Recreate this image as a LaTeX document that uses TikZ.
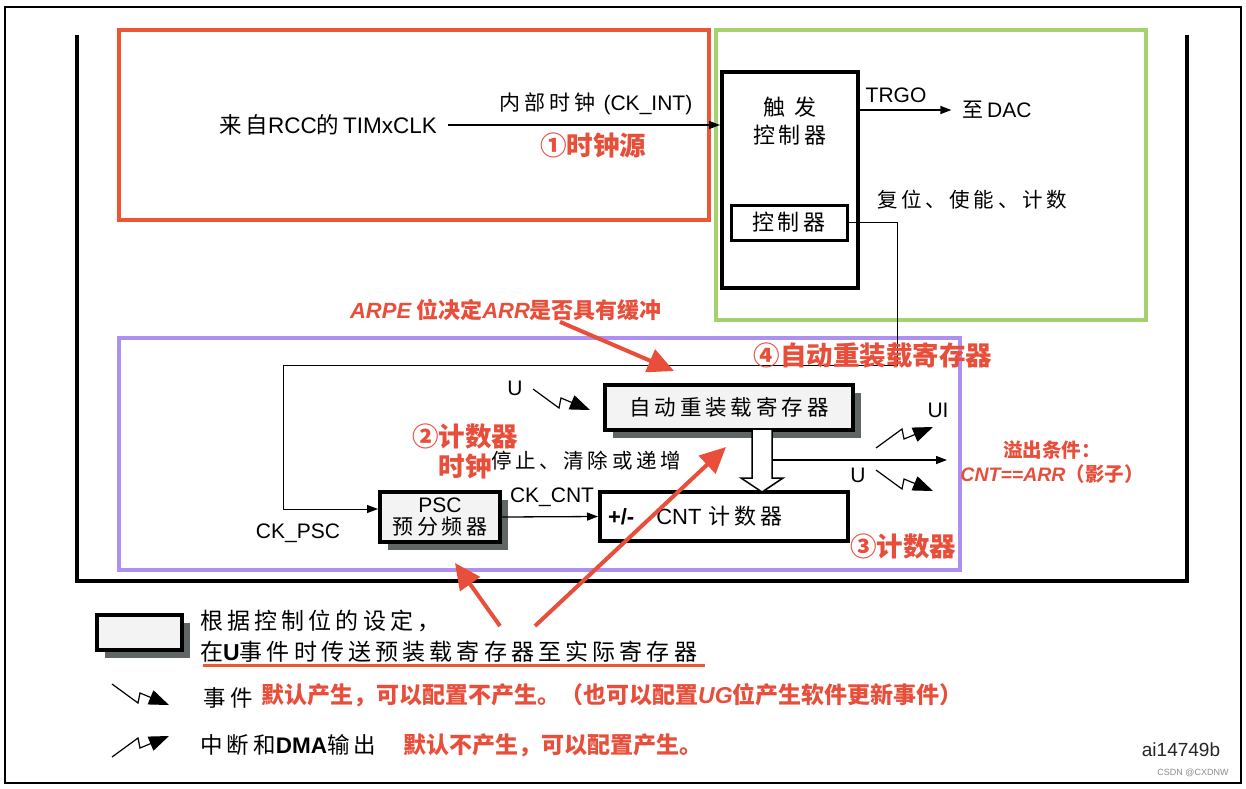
\documentclass[tikz,border=0pt]{standalone}
\usepackage{fontspec}
\setmainfont{Noto Sans CJK SC}
\newfontfamily\wide[LetterSpace=18]{Noto Sans CJK SC}
\newfontfamily\lat{Liberation Sans}
\usetikzlibrary{arrows.meta,positioning,calc,shadows}

\definecolor{srcred}{RGB}{237,86,52}
\definecolor{trggreen}{RGB}{166,210,110}
\definecolor{cntpurple}{RGB}{174,144,240}
\definecolor{notered}{RGB}{232,78,58}
\definecolor{shadowgray}{RGB}{96,102,102}
\definecolor{boxfill}{RGB}{243,243,243}

\begin{document}
\begin{tikzpicture}[x=1pt,y=-1pt,
  txt/.style={font=\wide\fontsize{21}{28}\selectfont,inner sep=1pt},
  lt/.style={font=\lat\fontsize{21}{25}\selectfont,inner sep=1pt},
  note/.style={text=notered,font=\fontsize{26.5}{30}\selectfont\bfseries,inner sep=1pt},
  subnote/.style={text=notered,font=\fontsize{23}{25}\selectfont\bfseries,inner sep=1pt},
  regbox/.style={draw,line width=4pt,fill=boxfill,inner sep=0pt,
    drop shadow={shadow xshift=8pt,shadow yshift=-8pt,fill=shadowgray,opacity=1}},
  plainbox/.style={draw,line width=4pt,fill=white,inner sep=0pt},
  sig/.style={line width=1.3pt,-{Triangle[length=11pt,width=8pt]}},
  hint/.style={draw=notered,line width=4pt,-{Triangle[length=26pt,width=24pt]}},
  zz/.style={line width=1.2pt,-{Triangle[length=20pt,width=15pt]}},
  evtdn/.pic={\draw[zz] (0,0) -- (26,19) -- (28,9) -- (57,21);},
  evtup/.pic={\draw[zz] (0,0) -- (26,-19) -- (28,-9) -- (57,-21);}]
  \useasboundingbox (0,0) rectangle (1246,788);
  \fill[white] (0,0) rectangle (1246,788);
  \draw[line width=1.6pt] (5,7) rectangle (1241,783);

  % coloured areas
  \draw[srcred,line width=4pt] (119,30) rectangle (709,220);
  \draw[trggreen,line width=4pt] (716,30) rectangle (1146,320);
  \draw[cntpurple,line width=4pt] (119,338) rectangle (960,570);
  \draw[line width=4pt] (77,35) -- (77,581) -- (1187,581) -- (1187,35);

  % clock source and trigger controller
  \node[txt,font=\wide\fontsize{22.5}{28}\selectfont] (rcc) at (328,125) {来自{\lat RCC}的\,{\lat TIMxCLK}};
  \node[plainbox,minimum width=136pt,minimum height=216pt] (trig) at (790,180) {};
  \node[txt,align=center,font=\wide\fontsize{22}{28}\selectfont] (trigtxt) at (790,121) {触\ 发\\控制器};
  \node[draw,line width=3pt,minimum width=116pt,minimum height=35pt,inner sep=0pt,txt,font=\wide\fontsize{22}{26}\selectfont] (ctrl) at (789,222.5) {控制器};
  \draw[sig] ([xshift=10pt]rcc.east) -- (trig.west |- rcc);
  \node[txt] (ckint) at (596,104) {内部时钟\ {\lat (CK\_INT)}};
  \node[note] (srcnote) at (593,145) {①时钟源};

  \node[txt] (dac) at (997,110) {至\,{\lat DAC}};
  \draw[sig] (trig.east |- dac) -- ([xshift=-10pt]dac.west);
  \node[lt] (trgo) at (896,95) {TRGO};
  \node[txt,font=\wide\fontsize{20.5}{26}\selectfont] (rst) at (972,200) {复位、使能、计数};

  % time base unit
  \node[regbox,minimum width=248pt,minimum height=45pt,txt,font=\wide\fontsize{21.5}{26}\selectfont] (arr) at (729,407.5) {自动重装载寄存器};
  \node[regbox,minimum width=120pt,minimum height=50pt,align=center,font=\fontsize{21}{22}\selectfont] (psc) at (440,517) {{\lat PSC}\\{\wide 预分频器}};
  \node[plainbox,minimum width=248pt,minimum height=49pt,text width=232pt,align=left,txt,font=\wide\fontsize{22}{26}\selectfont] (cnt) at (724,516.5) {{\lat\bfseries +/-}\quad{\lat CNT}\ 计数器};

  \coordinate (fbk) at (897,365);
  \coordinate (fbkl) at (283,365);
  \draw[line width=1pt] (ctrl.east) -| (fbk) -- (fbkl);
  \draw[sig,line width=1pt] (fbkl) |- ([yshift=8pt]psc.west);
  \node[lt] (ckpsc) at (298,533) {CK\_PSC};
  \draw[sig] (psc.east) -- (cnt.west);
  \node[lt] (ckcnt) at (552,497) {CK\_CNT};

  \node[lt] (uin) at (515,388) {U};
  \pic at (533,389) {evtdn};
  \node[txt,font=\wide\fontsize{20.5}{26}\selectfont] (stop) at (586,461) {停止、清除或递增};

  % preload to shadow transfer
  \draw[line width=1.5pt,fill=white] (752,430) -- (752,478) -- (741,478) -- (762,492)
    -- (783,478) -- (772,478) -- (772,430);
  \coordinate (ushaft) at (772,460);
  \coordinate (uout) at (947,460);
  \draw[sig] (ushaft) -- (uout);
  \pic at (876,448) {evtup};
  \node[lt] (uilbl) at (938,410) {UI};
  \pic at (876,470) {evtdn};
  \node[lt] (ulbl) at (858,475) {U};

  % notes
  \node[note] (arrnote) at (873,355) {④自动重装载寄存器};
  \node[note,align=center] (clknote) at (465,451) {②计数器\\时钟};
  \node[note] (cntnote) at (903,546) {③计数器};
  \node[subnote,align=center,font=\fontsize{19.5}{24}\selectfont\bfseries] (ovf) at (1052,462) {溢出条件：\\{\lat\bfseries\itshape CNT==ARR}（影子）};
  \node[subnote,font=\fontsize{22}{26}\selectfont\bfseries] (arpe) at (506,310) {{\lat\bfseries\itshape ARPE}\ 位决定{\lat\bfseries\itshape ARR}是否具有缓冲};
  \draw[hint] ([xshift=54pt]arpe.south) -- ([xshift=71pt,yshift=12pt]arr.north west);

  % legend
  \node[regbox,minimum width=85pt,minimum height=35pt] (legbox) at (139.5,632.5) {};
  \node[txt,anchor=west,align=left,font=\wide\fontsize{23}{31}\selectfont] (legtxt) at (199,636) {根据控制位的设定，\\在{\lat\bfseries U}事件时传送预装载寄存器至实际寄存器};
  \draw[srcred,line width=3pt] (203,665) -- (705,665);
  \coordinate (lega) at (500,626);
  \coordinate (legb) at (535,626);
  \draw[hint] (lega) -- ([xshift=15pt,yshift=-19pt]psc.south);
  \draw[hint] (legb) -- ([xshift=-3pt,yshift=-15pt]arr.south);

  \pic at (112,684) {evtdn};
  \node[txt,font=\wide\fontsize{22.5}{28}\selectfont] (evtlbl) at (228,698) {事件};
  \node[subnote,anchor=west] (evtnote) at (260,695) {默认产生，可以配置不产生。（也可以配置{\lat\bfseries\itshape UG}位产生软件更新事件）};
  \pic at (112,757) {evtup};
  \node[txt,anchor=west,font=\wide\fontsize{22.5}{28}\selectfont] (irqlbl) at (199,745) {中断和{\lat\bfseries DMA}输出};
  \node[subnote,anchor=west] (irqnote) at (402,745) {默认不产生，可以配置产生。};

  \node[lt,font=\lat\fontsize{19}{22}\selectfont,text=black!85] (ailbl) at (1181,750) {ai14749b};
  \node[font=\lat\fontsize{9}{11}\selectfont,text=black!45] (csdn) at (1193,773) {CSDN @CXDNW};
\end{tikzpicture}
\end{document}
